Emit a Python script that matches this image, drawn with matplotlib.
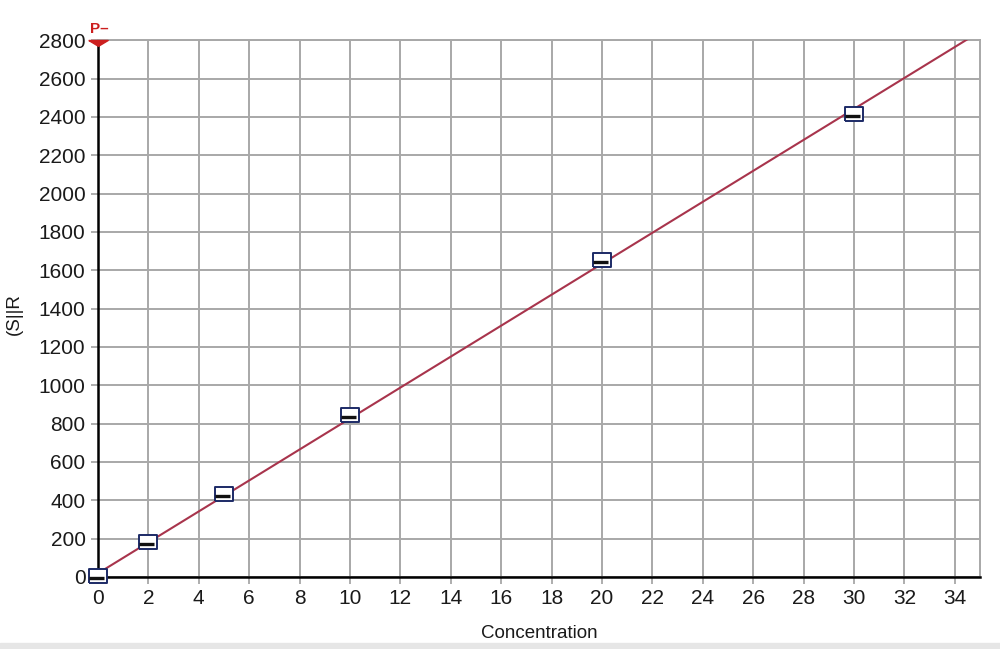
import numpy as np
import matplotlib
matplotlib.use("Agg")
import matplotlib.pyplot as plt
from matplotlib.path import Path
from matplotlib.patches import Rectangle

plt.rcParams['font.family'] = ['Liberation Sans', 'DejaVu Sans']

# measured standards
conc = [0, 2, 5, 10, 20, 30]
signal = [5, 181, 435, 843, 1652, 2413]

# calibration line as drawn (ends)
fit_x = [0, 34.5]
fit_y = [19, 2805]

xticks = list(range(0, 36, 2))
yticks = list(range(0, 2801, 200))

fig = plt.figure(figsize=(10, 6.49), dpi=100)
ax = fig.add_axes([0.098, 0.111, 0.882, 0.827])

ax.set_xlim(0, 35)
ax.set_ylim(0, 2800)
ax.set_xticks(xticks)
ax.set_yticks(yticks)
ax.grid(True, color='#a8a8a8', linewidth=1.4)
ax.set_axisbelow(True)
ax.tick_params(direction='out', length=5, width=1.2, color='#a0a0a0',
               labelsize=15, labelcolor='#1a1a1a', pad=4)

for s in ['top', 'right']:
    ax.spines[s].set_color('#a8a8a8')
    ax.spines[s].set_linewidth(1.4)
for s in ['left', 'bottom']:
    ax.spines[s].set_color('black')
    ax.spines[s].set_linewidth(1.8)

ax.plot(fit_x, fit_y, color='#a8344c', linewidth=1.5, zorder=3)

# open rectangle markers with a dark bar inside
rect = Path([(-1.3, -1), (1.3, -1), (1.3, 1), (-1.3, 1), (-1.3, -1)])
bar = Path([(-1.4, -0.3), (0.9, -0.3)], [Path.MOVETO, Path.LINETO])
ax.plot(conc, signal, linestyle='none', marker=rect, markersize=13,
        markerfacecolor='white', markeredgecolor='#1c2a66',
        markeredgewidth=1.4, zorder=4, clip_on=False)
ax.plot(conc, signal, linestyle='none', marker=bar, markersize=13,
        markerfacecolor='none', markeredgecolor='#111111',
        markeredgewidth=2.4, zorder=5, clip_on=False)

# red flag at the top of the y axis (flat triangle hanging below the top)
flag = Path([(-1, 0), (1, 0), (0, -0.6), (-1, 0)])
ax.plot([0], [2800], marker=flag, markersize=14, color='#cc1f1f',
        clip_on=False, zorder=6)
ax.annotate('P\u2013', xy=(0, 2800), xytext=(-6, 3), textcoords='offset points',
            color='#cc1f1f', fontsize=11, fontweight='bold', va='bottom', ha='left',
            annotation_clip=False)

ax.set_xlabel('Concentration', fontsize=13.5, color='#1a1a1a', labelpad=12)
ax.set_ylabel('(S||R', fontsize=13.5, color='#1a1a1a')
ax.yaxis.set_label_coords(-0.085, 0.49)

fig.patches.append(Rectangle((0, 0), 1, 0.009, transform=fig.transFigure,
                             color='#e6e6e6', zorder=0))

fig.savefig('out.png', dpi=100)
